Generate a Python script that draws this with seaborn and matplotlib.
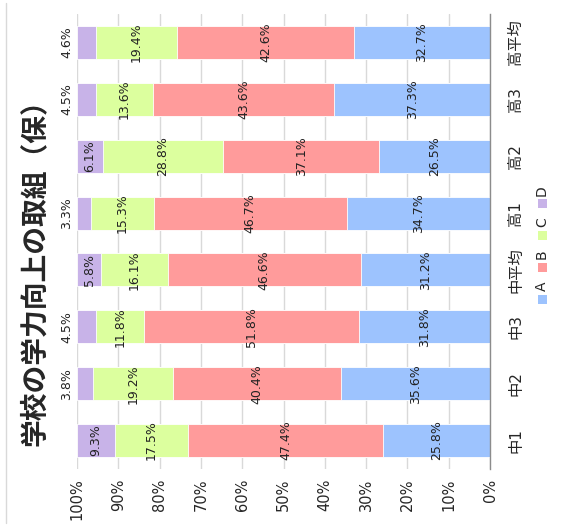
import numpy as np
import pandas as pd
import matplotlib
matplotlib.use("Agg")
import matplotlib.pyplot as plt
from matplotlib.patches import Rectangle
from matplotlib.lines import Line2D
from matplotlib.ticker import PercentFormatter
import seaborn as sns

# data (%)
categories = ['中1', '中2', '中3', '中平均', '高1', '高2', '高3', '高平均']
series_names = ['A', 'B', 'C', 'D']
val_a = [25.8, 35.6, 31.8, 31.2, 34.7, 26.5, 37.3, 32.7]
val_b = [47.4, 40.4, 51.8, 46.6, 46.7, 37.1, 43.6, 42.6]
val_c = [17.5, 19.2, 11.8, 16.1, 15.3, 28.8, 13.6, 19.4]
val_d = [9.3, 3.8, 4.5, 5.8, 3.3, 6.1, 4.5, 4.6]
title = '学校の学力向上の取組（保）'

colors = {'A': '#9dc3fe', 'B': '#ff9b9b', 'C': '#dcff9e', 'D': '#c8b3e8'}

sns.set_style('white')
plt.rcParams['font.family'] = ['DejaVu Sans', 'Noto Sans CJK JP']

W, H = 561, 526
fig = plt.figure(figsize=(W / 100, H / 100), dpi=100)
ax = fig.add_axes([77 / W, 1 - 469 / H, 413 / W, 455 / H])

df = pd.DataFrame({'cat': categories, 'A': val_a, 'B': val_b, 'C': val_c, 'D': val_d})
total = df[series_names].sum(axis=1)
# 100% stacked: normalise each row
norm = df[series_names].div(total, axis=0)
cum = norm.cumsum(axis=1)
order = categories[::-1]

# draw cumulative layers from the outermost (D) inwards
for s in series_names[::-1]:
    sns.barplot(x=cum[s], y=df['cat'], order=order, orient='h', color=colors[s],
                width=0.58, saturation=1, edgecolor='white', linewidth=0.6, ax=ax)

ax.set_xlim(1, 0)
ax.set_xticks(np.arange(0, 1.01, 0.1))
ax.xaxis.set_major_formatter(PercentFormatter(1, decimals=0))
ax.grid(axis='x', color='#d9d9d9', linewidth=1)
ax.set_axisbelow(True)
for sp in ['top', 'bottom', 'left']:
    ax.spines[sp].set_visible(False)
ax.spines['right'].set_color('#8c8c8c')
ax.spines['right'].set_linewidth(1)
ax.set_xlabel('')
ax.set_ylabel('')

ax.yaxis.tick_right()
ax.tick_params(axis='y', length=0, pad=13, labelsize=11)
ax.tick_params(axis='x', length=0, pad=7, labelsize=10.5)
for t in ax.get_yticklabels():
    t.set_rotation(90)
    t.set_va('center')
for t in ax.get_xticklabels():
    t.set_rotation(90)
    t.set_ha('center')
    t.set_va('top')

# data labels
for i, cat in enumerate(categories):
    ypos = order.index(cat)
    start = 0.0
    for s in series_names:
        frac = norm.loc[i, s]
        v = df.loc[i, s]
        xc = start + frac / 2
        if s == 'D' and v < 5:
            xc = 1.025
        ax.text(xc, ypos, f'{v:.1f}%', rotation=90, ha='center', va='center',
                fontsize=9, color='#222222')
        start += frac

# title (rotated like the rest of the chart)
fig.text(35 / W, 1 - 266 / H, title, rotation=90, ha='center', va='center',
         fontsize=20, fontweight='bold')

# legend drawn rotated
for i, s in enumerate(series_names):
    sy = 299 - 31.7 * i
    fig.add_artist(Rectangle(((542 - 4.5) / W, 1 - (sy + 4.5) / H), 9 / W, 9 / H,
                             transform=fig.transFigure, facecolor=colors[s],
                             edgecolor='none'))
    fig.text(542 / W, 1 - (sy - 13) / H, s, rotation=90, ha='center', va='center',
             fontsize=10)

# chart area border on the left
fig.add_artist(Line2D([6 / W, 6 / W], [1 - 3 / H, 1 - 523 / H],
                      transform=fig.transFigure, color='#d9d9d9', linewidth=1))

fig.savefig('out.png', dpi=100)
